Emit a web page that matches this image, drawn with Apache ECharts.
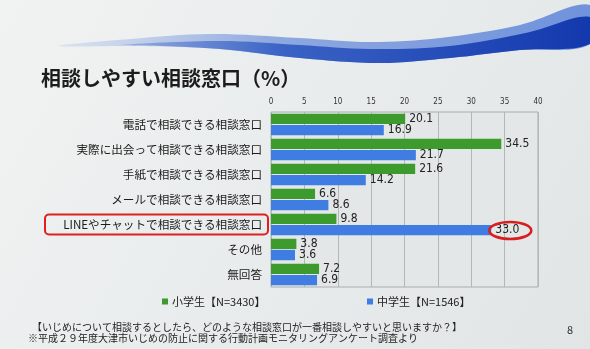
<!DOCTYPE html>
<html>
<head>
<meta charset="utf-8">
<script src="https://cdn.jsdelivr.net/npm/echarts@6/dist/echarts.min.js"></script>
<style>
  html, body { margin: 0; padding: 0; }
  #chart { width: 590px; height: 349px; }
</style>
</head>
<body>
<div id="chart"></div>
<script>
// 相談しやすい相談窓口（%）
const categories = [
  '電話で相談できる相談窓口',
  '実際に出会って相談できる相談窓口',
  '手紙で相談できる相談窓口',
  'メールで相談できる相談窓口',
  'LINEやチャットで相談できる相談窓口',
  'その他',
  '無回答'
];
const elementary = [20.1, 34.5, 21.6, 6.6, 9.8, 3.8, 7.2];
const juniorHigh = [16.9, 21.7, 14.2, 8.6, 33.0, 3.6, 6.9];
const seriesNames = ['小学生【N=3430】', '中学生【N=1546】'];
const xTicks = [0, 5, 10, 15, 20, 25, 30, 35, 40];

const GREEN = '#3c9b2c';
const BLUE = '#3f7de2';
const FONT = '"Noto Sans CJK JP", sans-serif';

const chartDom = document.getElementById('chart');
const myChart = echarts.init(chartDom);

const labelStyle = {
  show: true,
  position: 'right',
  distance: 4,
  color: '#222',
  fontSize: 12,
  fontFamily: '"DejaVu Sans Condensed", sans-serif',
  formatter: p => p.value.toFixed(1)
};

// decorative swoosh at the top of the slide
const swooshLight = [
  [58, 46], [130, 39], [210, 34], [300, 38], [370, 42], [440, 38], [520, 25], [590, 5],
  [590, 44], [520, 50], [450, 58], [380, 63], [300, 58], [220, 49], [140, 46]
];
const swooshDark = [
  [120, 45], [220, 41], [300, 45], [370, 49], [450, 46], [530, 32], [590, 17],
  [590, 44], [520, 50], [450, 58], [380, 63], [300, 58], [220, 49], [160, 46]
];

const legendText = { fontSize: 11, color: '#222', padding: [0, 0, 0, -1] };

const option = {
  backgroundColor: new echarts.graphic.LinearGradient(0, 0, 1, 1, [
    { offset: 0, color: '#f1f3f3' },
    { offset: 1, color: '#e1e5e5' }
  ]),
  textStyle: { fontFamily: FONT },
  title: {
    text: '相談しやすい相談窓口（%）',
    left: 36,
    top: 63,
    textStyle: { fontSize: 20, fontWeight: 'bold', color: '#1c1c1c', fontFamily: FONT }
  },
  legend: [
    {
      data: [seriesNames[0]],
      left: 157,
      top: 291,
      icon: 'rect',
      itemWidth: 6,
      itemHeight: 6,
      textStyle: legendText
    },
    {
      data: [seriesNames[1]],
      left: 362,
      top: 291,
      icon: 'rect',
      itemWidth: 6,
      itemHeight: 6,
      textStyle: legendText
    }
  ],
  grid: {
    left: 271,
    right: 52,
    top: 112,
    height: 175,
    show: true,
    backgroundColor: '#e4e7e7',
    borderColor: '#a9adad',
    borderWidth: 1
  },
  xAxis: {
    type: 'value',
    position: 'top',
    min: xTicks[0],
    max: xTicks[xTicks.length - 1],
    interval: 5,
    axisLine: { show: false },
    axisTick: { show: false },
    axisLabel: {
      color: '#333',
      fontSize: 8,
      margin: 6,
      fontFamily: '"DejaVu Sans Condensed", sans-serif'
    },
    splitLine: { show: true, lineStyle: { color: '#b3b7b7', width: 1 } }
  },
  yAxis: {
    type: 'category',
    inverse: true,
    data: categories,
    axisLine: { show: false },
    axisTick: { show: false },
    axisLabel: { color: '#1c1c1c', fontSize: 11.6, margin: 9 },
    splitLine: { show: false }
  },
  series: [
    {
      name: seriesNames[0],
      type: 'bar',
      data: elementary,
      itemStyle: { color: GREEN },
      barGap: '8%',
      barCategoryGap: '14%',
      label: labelStyle
    },
    {
      name: seriesNames[1],
      type: 'bar',
      data: juniorHigh,
      itemStyle: { color: BLUE },
      label: labelStyle
    }
  ],
  graphic: [
    {
      type: 'polygon',
      z: -1,
      shape: { points: swooshLight, smooth: 0.35 },
      style: {
        fill: new echarts.graphic.LinearGradient(0, 0, 1, 0, [
          { offset: 0, color: 'rgba(170,190,232,0.3)' },
          { offset: 0.4, color: '#8ea8e0' },
          { offset: 1, color: '#6f92dc' }
        ])
      }
    },
    {
      type: 'polygon',
      z: -1,
      shape: { points: swooshDark, smooth: 0.35 },
      style: {
        fill: new echarts.graphic.LinearGradient(0, 0, 1, 0, [
          { offset: 0, color: 'rgba(90,125,210,0.4)' },
          { offset: 0.35, color: '#3a62c4' },
          { offset: 1, color: '#1238ad' }
        ])
      }
    },
    {
      type: 'text',
      left: 32,
      top: 322,
      style: {
        text: '【いじめについて相談するとしたら、どのような相談窓口が一番相談しやすいと思いますか？】',
        fontSize: 10,
        fill: '#222',
        fontFamily: FONT
      }
    },
    {
      type: 'text',
      left: 28,
      top: 333,
      style: {
        text: '※平成２９年度大津市いじめの防止に関する行動計画モニタリングアンケート調査より',
        fontSize: 10,
        fill: '#222',
        fontFamily: FONT
      }
    },
    {
      type: 'text',
      left: 567,
      top: 324,
      style: { text: '8', fontSize: 11, fill: '#333', fontFamily: FONT }
    }
  ]
};

myChart.setOption(option);

// red annotations placed from the axes
const lineIdx = 4;
const catY = myChart.convertToPixel({ yAxisIndex: 0 }, lineIdx);
const blueX = myChart.convertToPixel({ xAxisIndex: 0 }, juniorHigh[lineIdx]);
const bandH = 175 / categories.length;
myChart.setOption({
  graphic: option.graphic.concat([
    {
      type: 'rect',
      z: 10,
      shape: { x: 45, y: catY - 10, width: 223, height: 20, r: 4 },
      style: { fill: 'none', stroke: '#e02020', lineWidth: 2 }
    },
    {
      type: 'ellipse',
      z: 10,
      shape: { cx: blueX + 19, cy: catY + bandH * 0.24, rx: 21, ry: 8.5 },
      style: { fill: 'none', stroke: '#d81e1e', lineWidth: 2.5 }
    }
  ])
});
</script>
</body>
</html>
